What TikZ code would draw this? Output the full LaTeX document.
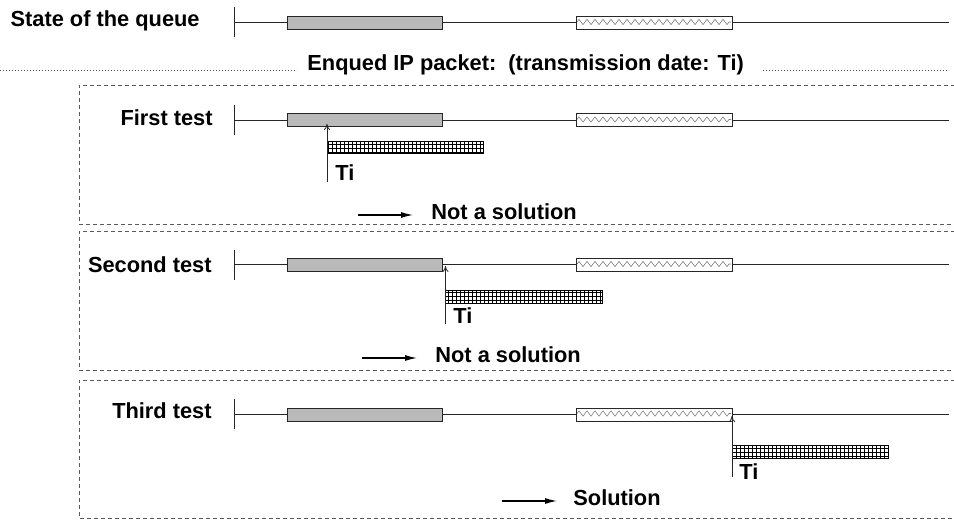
\documentclass[tikz,border=0pt]{standalone}
\usepackage{fontspec}
\setmainfont{Liberation Sans}
\usetikzlibrary{arrows.meta,patterns.meta,decorations.pathmorphing}

\begin{document}
\begin{tikzpicture}[
    x=0.5pt, y=-0.5pt,
    font=\fontsize{10.9}{13}\selectfont\bfseries,
    % Style for the row titles on the left
    rowname/.style={anchor=base east, inner sep=0pt},
    % Style for the small texts (Ti, results)
    note/.style={anchor=base west, inner sep=0pt},
    % Style for the timeline of the queue
    queue/.style={line width=0.5pt, black!85},
    % Style for the slots already in the queue
    busy/.style={draw=black!85, line width=0.5pt, fill=black!27},
    reserved/.style={draw=black!85, line width=0.5pt, fill=white},
    wave/.style={draw=black!50, line width=0.3pt, decorate,
        decoration={zigzag, segment length=4pt, amplitude=1.3pt}},
    % Style for the enqueued packet
    packet/.style={draw=black, line width=0.5pt,
        pattern={Hatch[angle=0, distance=2pt, line width=0.35pt]}},
    % Style for the frames round each test
    testbox/.style={draw=black!65, line width=0.5pt, dash pattern=on 2pt off 1.5pt},
    sep/.style={draw=black!70, line width=0.4pt, dash pattern=on 0.4pt off 1.1pt},
    date arrow/.style={line width=0.4pt, black!85, -{To[length=3pt, width=3pt]}},
    result arrow/.style={line width=0.6pt, -{Latex[length=6pt, width=3pt]}}
]
    \useasboundingbox (0,0) rectangle (954,520);

    % --- 1. State of the queue ---
    \coordinate (q0) at (234,22.5);
    \coordinate (q0 end) at (949,22.5);
    \node[rowname] (state) at (200,26) {State of the queue};
    \draw[queue] (234,7) -- (234,37);
    \draw[queue] (q0) -- (q0 end);
    \draw[busy] (287,16) rectangle (442,29);
    \draw[reserved] (576,16) rectangle (732,29);
    \draw[wave] (577,22) -- (731,22);

    % --- 2. Enqueued packet line ---
    \coordinate (d0) at (0,70);
    \coordinate (d1) at (297,70);
    \coordinate (d2) at (763,70);
    \coordinate (d3) at (949,70);
    \node[note] (enq) at (307,70.5) {Enqued IP packet:~~(transmission date: Ti)};
    \draw[sep] (d0) -- (d1);
    \draw[sep] (d2) -- (d3);

    % --- 3. Frames of the tests ---
    \draw[testbox] (955,85) -- (79,85) -- (79,224) -- (955,224);
    \draw[testbox] (955,231) -- (79,231) -- (79,370) -- (955,370);
    \draw[testbox] (955,380) -- (79,380) -- (79,518) -- (955,518);

    % --- 4. First test ---
    \coordinate (q1) at (234,120);
    \coordinate (q1 end) at (949,120);
    \node[rowname] (first) at (213,125) {First test};
    \draw[queue] (234,105) -- (234,135);
    \draw[queue] (q1) -- (q1 end);
    \draw[busy] (287,113.5) rectangle (442,126.5);
    \draw[reserved] (576,113.5) rectangle (732,126.5);
    \draw[wave] (577,119.5) -- (731,119.5);
    \draw[packet] (327,141) rectangle (483,153);
    \coordinate (ti1 foot) at (327,182);
    \coordinate (ti1 top) at (327,124);
    \draw[date arrow] (ti1 foot) -- (ti1 top);
    \node[note] (ti1) at (335,180) {Ti};
    \coordinate (r1 start) at (358,215);
    \coordinate (r1 end) at (413,215);
    \draw[result arrow] (r1 start) -- (r1 end);
    \node[note] (res1) at (431,219) {Not a solution};

    % --- 5. Second test ---
    \coordinate (q2) at (234,264.5);
    \coordinate (q2 end) at (949,264.5);
    \node[rowname] (second) at (212,272) {Second test};
    \draw[queue] (234,250) -- (234,280);
    \draw[queue] (q2) -- (q2 end);
    \draw[busy] (287,258) rectangle (442,271);
    \draw[reserved] (576,258) rectangle (732,271);
    \draw[wave] (577,264) -- (731,264);
    \draw[packet] (445.5,290) rectangle (602,303);
    \coordinate (ti2 foot) at (445.5,324);
    \coordinate (ti2 top) at (445.5,266);
    \draw[date arrow] (ti2 foot) -- (ti2 top);
    \node[note] (ti2) at (453,323) {Ti};
    \coordinate (r2 start) at (362,358);
    \coordinate (r2 end) at (417,358);
    \draw[result arrow] (r2 start) -- (r2 end);
    \node[note] (res2) at (435,362) {Not a solution};

    % --- 6. Third test ---
    \coordinate (q3) at (234,414);
    \coordinate (q3 end) at (949,414);
    \node[rowname] (third) at (212,418) {Third test};
    \draw[queue] (234,399) -- (234,429);
    \draw[queue] (q3) -- (q3 end);
    \draw[busy] (287,408) rectangle (442,421);
    \draw[reserved] (576,408) rectangle (732,421);
    \draw[wave] (577,413.5) -- (731,413.5);
    \draw[packet] (732,445) rectangle (888,458);
    \coordinate (ti3 foot) at (732,477);
    \coordinate (ti3 top) at (732,416);
    \draw[date arrow] (ti3 foot) -- (ti3 top);
    \node[note] (ti3) at (739,479) {Ti};
    \coordinate (r3 start) at (502,501);
    \coordinate (r3 end) at (557,501);
    \draw[result arrow] (r3 start) -- (r3 end);
    \node[note] (res3) at (573,505) {Solution};

\end{tikzpicture}
\end{document}
